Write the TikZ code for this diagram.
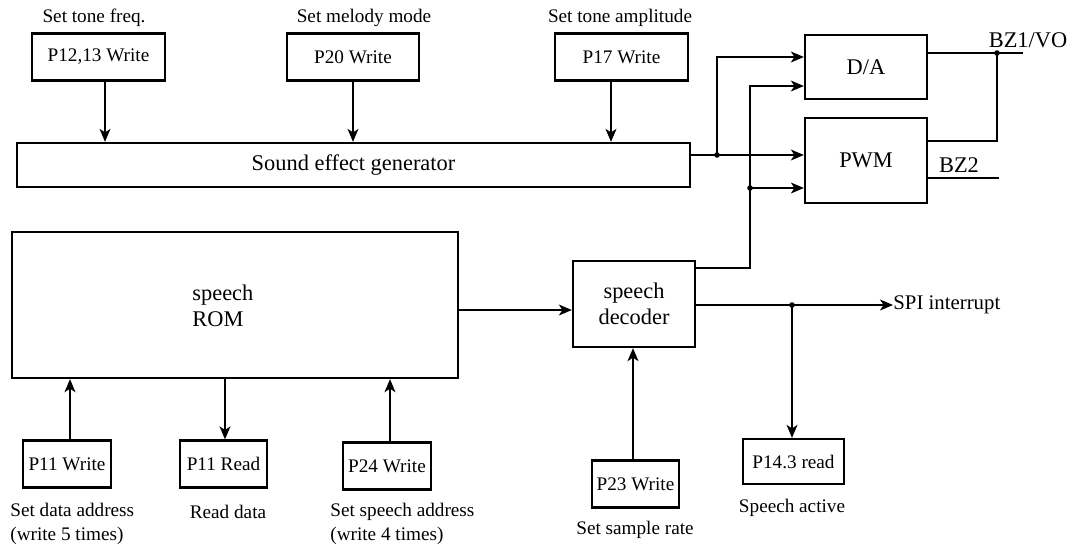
\documentclass[tikz,border=0pt]{standalone}
\usepackage{fontspec}
\setmainfont{Liberation Serif}
\newfontfamily\diagfont{Liberation Serif}
\usepackage{tikz}
\usetikzlibrary{arrows.meta}
\usetikzlibrary{positioning}
\tikzstyle{block} = [rectangle, draw=black, line width=1.2pt, inner sep=0pt, align=center, font=\diagfont\fontsize{11.2}{13.2}\selectfont]
\tikzstyle{port} = [rectangle, draw=black, line width=1.2pt, inner sep=0pt, minimum height=23.5pt, font=\diagfont\fontsize{9.6}{12}\selectfont]
\tikzstyle{lbl} = [inner sep=0pt, font=\diagfont\fontsize{9.6}{12}\selectfont]
\tikzstyle{wire} = [line width=0.6pt]
\tikzstyle{arrow} = [wire, -{Stealth[length=6.5pt,width=5.5pt,inset=1.8pt]}]
\tikzstyle{dot} = [fill=black]

\begin{document}
\begin{tikzpicture}[x=0.5pt, y=-0.5pt]

  \useasboundingbox (0,0) rectangle (1069,547);

  % top row
  \node[port, minimum width=66.5pt] (p1213) at (98.5,57) {P12,13 Write};
  \node[port, minimum width=66pt] (p20) at (353,57) {P20 Write};
  \node[port, minimum width=66.5pt] (p17) at (621.5,57) {P17 Write};
  \node[lbl] (tfreq) at (94,18) {Set tone freq.};
  \node[lbl] (tmode) at (364,18) {Set melody mode};
  \node[lbl] (tampl) at (620,18) {Set tone amplitude};

  \node[block, minimum width=336.5pt, minimum height=22pt] (sfg) at (353.5,165) {Sound effect generator};

  % output stage
  \node[block, minimum width=61pt, minimum height=32pt] (da) at (866,67) {D/A};
  \node[block, minimum width=61pt, minimum height=42.5pt] (pwm) at (866,160.5) {PWM};
  \node[lbl, font=\diagfont\fontsize{11.2}{13.2}\selectfont] (bz1) at (1028,40) {BZ1/VO};
  \node[lbl, font=\diagfont\fontsize{11.2}{13.2}\selectfont] (bz2) at (959,165) {BZ2};

  % speech part
  \node[block, minimum width=223pt, minimum height=73pt] (rom) at (235,305) {};
  \node[lbl, anchor=west, align=left, font=\diagfont\fontsize{11.2}{13.2}\selectfont] (romtxt) at (192,306) {speech\\ROM};
  \node[block, minimum width=61pt, minimum height=43pt] (dec) at (634,304) {speech\\decoder};
  \node[lbl, anchor=west, font=\diagfont\fontsize{10.4}{12}\selectfont] (spi) at (893,305) {SPI interrupt};

  % bottom row
  \node[port, minimum width=44pt] (p11w) at (67,464) {P11 Write};
  \node[port, minimum width=43.5pt] (p11r) at (223.5,464) {P11 Read};
  \node[port, minimum width=44pt] (p24w) at (387,466) {P24 Write};
  \node[port, minimum width=43.5pt] (p23w) at (635.5,484) {P23 Write};
  \node[port, minimum width=50.5pt, minimum height=22.5pt] (p143) at (793.5,461.5) {P14.3 read};

  \node[lbl, anchor=west, align=left] (tdata) at (10,524) {Set data address\\(write 5 times)};
  \node[lbl] (tread) at (228,512) {Read data};
  \node[lbl, anchor=west, align=left] (tspa) at (330,524) {Set speech address\\(write 4 times)};
  \node[lbl] (trate) at (635,530) {Set sample rate};
  \node[lbl] (tact) at (792,508) {Speech active};

  % junctions
  \coordinate (j1) at (717,155);
  \coordinate (j2) at (750,188);
  \coordinate (j3) at (792,305);
  \coordinate (j4) at (997,53);
  \coordinate (bz1end) at (1023,53);
  \coordinate (bz2end) at (999,178);
  \coordinate (decup) at (750,268);

  % port writes
  \draw[arrow] ([xshift=3.25pt]p1213.south) -- ([xshift=3.25pt]p1213.south |- sfg.north);
  \draw[arrow] (p20.south) -- (p20.south |- sfg.north);
  \draw[arrow] ([xshift=-5.25pt]p17.south) -- ([xshift=-5.25pt]p17.south |- sfg.north);

  % sound effect generator to outputs
  \draw[wire] (sfg.east |- j1) -- (j1);
  \draw[arrow] (j1) -- (j1 -| pwm.west);
  \draw[arrow] (j1) |- ([yshift=5pt]da.west);
  \draw[wire] (decup -| dec.east) -- (decup) -- (j2);
  \draw[arrow] (j2) |- ([yshift=-9.5pt]da.west);
  \draw[arrow] (j2) -- (j2 -| pwm.west);
  \draw[wire] (j4 -| da.east) -- (bz1end);
  \draw[wire] (j4) |- ([yshift=9.75pt]pwm.east);
  \draw[wire] (bz2end -| pwm.east) -- (bz2end);

  % speech path
  \draw[arrow] (rom.east |- 0,310) -- (dec.west |- 0,310);
  \draw[arrow] (dec.east |- j3) -- (spi.west);
  \draw[arrow] (j3) -- (j3 |- p143.north);
  \draw[arrow] ([xshift=-1.25pt]p23w.north) -- ([xshift=-1.25pt]p23w.north |- dec.south);
  \draw[arrow] ([xshift=1.5pt]p11w.north) -- ([xshift=1.5pt]p11w.north |- rom.south);
  \draw[arrow] ([xshift=0.75pt]p11r.north |- rom.south) -- ([xshift=0.75pt]p11r.north);
  \draw[arrow] ([xshift=1.5pt]p24w.north) -- ([xshift=1.5pt]p24w.north |- rom.south);

  \foreach \j in {j1,j2,j3,j4} {
    \fill[dot] (\j) circle (1.4pt);
  }

\end{tikzpicture}
\end{document}
